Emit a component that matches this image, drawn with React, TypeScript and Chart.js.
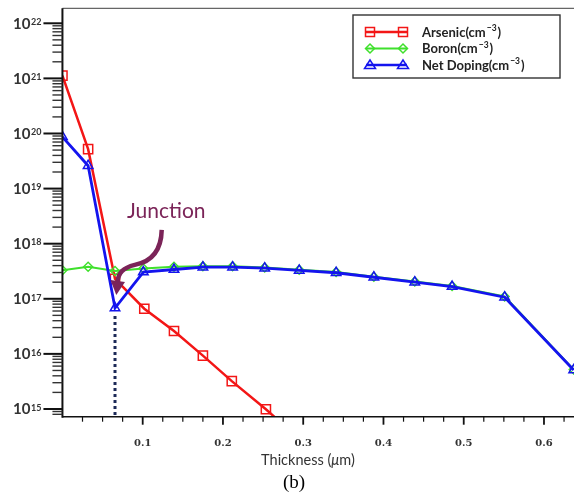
import React, { useEffect, useRef } from 'react';
import { Chart, registerables } from 'chart.js';

Chart.register(...registerables);

// ---------- data ----------
const arsenicDepth = [0, 0.032, 0.0655, 0.102, 0.139, 0.175, 0.211, 0.2535, 0.29];
const arsenicConc = [1.12e21, 5.2e19, 2.3e17, 6.6e16, 2.6e16, 9.3e15, 3.2e15, 9.9e14, 3.3e14];

const profileDepth = [0, 0.032, 0.0655, 0.1008, 0.139, 0.175, 0.212, 0.252, 0.295, 0.341, 0.388, 0.439, 0.4855, 0.551, 0.637];
const boronConc = [3.3e17, 3.8e17, 3.2e17, 3.55e17, 3.8e17, 3.9e17, 3.9e17, 3.7e17, 3.35e17, 3.05e17, 2.5e17, 2.05e17, 1.7e17, 1.1e17, 5.2e15];
const netDopingConc = [8.7e19, 2.6e19, 6.8e16, 3.06e17, 3.4e17, 3.75e17, 3.75e17, 3.6e17, 3.27e17, 2.97e17, 2.46e17, 2.0e17, 1.67e17, 1.07e17, 5.1e15];

const seriesNames = ['Arsenic', 'Boron', 'Net Doping'];
const xTickValues = [0.1, 0.2, 0.3, 0.4, 0.5, 0.6];
const yDecades = [15, 16, 17, 18, 19, 20, 21, 22];
const xTitleText = ['Thickness (', '\u03bc', 'm)'];
const junctionText = 'Junction';
const figureLabel = '(b)';

const X_MIN = 0;
const X_MAX = 0.6374;
const Y_MIN = Math.pow(10, 14.86);
const Y_MAX = Math.pow(10, 22.272);

const RED = '#f31616';
const GREEN = '#3fe02c';
const BLUE = '#1414ee';
const JUNCTION = '#7b2458';

function drawMarker(ctx: CanvasRenderingContext2D, style: string, x: number, y: number, color: string) {
  ctx.save();
  ctx.strokeStyle = color;
  ctx.lineWidth = 1.5;
  ctx.beginPath();
  if (style === 'rect') {
    ctx.rect(x - 4.5, y - 4.5, 9, 9);
  } else if (style === 'rectRot') {
    ctx.moveTo(x - 4.5, y);
    ctx.lineTo(x, y - 4.5);
    ctx.lineTo(x + 4.5, y);
    ctx.lineTo(x, y + 4.5);
    ctx.closePath();
  } else {
    ctx.moveTo(x, y - 5);
    ctx.lineTo(x + 5.5, y + 3.5);
    ctx.lineTo(x - 5.5, y + 3.5);
    ctx.closePath();
  }
  ctx.stroke();
  ctx.restore();
}

const overlayPlugin = {
  id: 'overlay',
  beforeDatasetsDraw(chart: any) {
    const { ctx, chartArea: a } = chart;
    const xs = chart.scales.x;
    const ys = chart.scales.y;
    // dotted vertical line at the junction (minimum of net doping)
    const minVal = Math.min(...netDopingConc.slice(0, 5));
    const ji = netDopingConc.indexOf(minVal);
    const jx = xs.getPixelForValue(profileDepth[ji]);
    const jy = ys.getPixelForValue(minVal);
    ctx.save();
    ctx.fillStyle = '#1c2957';
    for (let yy = jy + 8; yy < a.bottom - 3; yy += 6) {
      ctx.fillRect(jx - 1.5, yy, 3, 3);
    }
    ctx.restore();
  },
  afterDraw(chart: any) {
    const { ctx, chartArea: a } = chart;
    const xs = chart.scales.x;
    const ys = chart.scales.y;
    ctx.save();

    // frame
    ctx.strokeStyle = '#666';
    ctx.lineWidth = 1.3;
    ctx.beginPath();
    ctx.moveTo(a.left, a.top);
    ctx.lineTo(a.right, a.top);
    ctx.stroke();

    ctx.strokeStyle = '#111';
    ctx.lineWidth = 2;
    ctx.beginPath();
    ctx.moveTo(a.left, a.top);
    ctx.lineTo(a.left, a.bottom + 1);
    ctx.stroke();
    ctx.lineWidth = 1.6;
    ctx.beginPath();
    ctx.moveTo(a.left, a.bottom);
    ctx.lineTo(a.right, a.bottom);
    ctx.stroke();

    // y ticks
    for (const d of yDecades) {
      const yp = ys.getPixelForValue(Math.pow(10, d));
      ctx.strokeStyle = '#111';
      ctx.lineWidth = 2;
      ctx.beginPath();
      ctx.moveTo(a.left - 19, yp);
      ctx.lineTo(a.left, yp);
      ctx.stroke();
      for (let k = 2; k <= 9; k++) {
        const v = k * Math.pow(10, d - 1);
        if (v < Y_MIN || v > Y_MAX) continue;
        const mp = ys.getPixelForValue(v);
        ctx.strokeStyle = '#333';
        ctx.lineWidth = 1.4;
        ctx.beginPath();
        ctx.moveTo(a.left - 10, mp);
        ctx.lineTo(a.left, mp);
        ctx.stroke();
      }
      // label 10^d
      ctx.fillStyle = '#333';
      ctx.font = 'bold 15px Lato';
      ctx.textAlign = 'right';
      ctx.textBaseline = 'alphabetic';
      ctx.fillText('10', a.left - 32, yp + 5.3);
      ctx.font = 'bold 9px Lato';
      ctx.textAlign = 'left';
      ctx.fillText(String(d), a.left - 31.5, yp + 1.8);
    }

    // x ticks
    for (let i = 1; i * 0.025 <= X_MAX; i++) {
      const v = i * 0.025;
      const xp = xs.getPixelForValue(v);
      const major = i % 4 === 0;
      ctx.strokeStyle = '#111';
      ctx.lineWidth = major ? 1.8 : 1.2;
      ctx.beginPath();
      ctx.moveTo(xp, a.bottom);
      ctx.lineTo(xp, a.bottom + (major ? 8 : 5));
      ctx.stroke();
    }
    ctx.fillStyle = '#333';
    ctx.font = 'bold 10px "DejaVu Serif"';
    ctx.textAlign = 'center';
    ctx.textBaseline = 'alphabetic';
    for (const v of xTickValues) {
      ctx.fillText(v.toFixed(1), xs.getPixelForValue(v), a.bottom + 29.5);
    }

    // x title
    const parts = xTitleText;
    const fonts = ['14.5px Lato', 'italic 14.5px Lato', '14.5px Lato'];
    let total = 0;
    const widths = parts.map((p, i) => {
      ctx.font = fonts[i];
      const w = ctx.measureText(p).width;
      total += w;
      return w;
    });
    let tx = 308 - total / 2;
    ctx.textAlign = 'left';
    ctx.fillStyle = '#333';
    parts.forEach((p, i) => {
      ctx.font = fonts[i];
      ctx.fillText(p, tx, a.bottom + 48.5);
      tx += widths[i];
    });

    // figure label
    ctx.fillStyle = '#000';
    ctx.font = '19px "Liberation Serif"';
    ctx.textAlign = 'center';
    ctx.fillText(figureLabel, 294, 488);

    // legend
    const lx = 353, ly = 15, lw = 207, lh = 63;
    ctx.fillStyle = '#fff';
    ctx.fillRect(lx, ly, lw, lh);
    ctx.strokeStyle = '#333';
    ctx.lineWidth = 1.4;
    ctx.strokeRect(lx, ly, lw, lh);
    const colors = [RED, GREEN, BLUE];
    const styles = ['rect', 'rectRot', 'triangle'];
    const rowY = [32, 48.5, 65];
    seriesNames.forEach((name, i) => {
      const ry = rowY[i];
      ctx.strokeStyle = colors[i];
      ctx.lineWidth = i === 1 ? 2 : 2.5;
      ctx.beginPath();
      ctx.moveTo(366, ry);
      ctx.lineTo(407, ry);
      ctx.stroke();
      drawMarker(ctx, styles[i], 370, ry, colors[i]);
      drawMarker(ctx, styles[i], 403, ry, colors[i]);
      ctx.fillStyle = '#222';
      ctx.textAlign = 'left';
      ctx.textBaseline = 'alphabetic';
      ctx.font = 'bold 13px Lato';
      let x0 = 422;
      const base = name + '(cm';
      ctx.fillText(base, x0, ry + 4.5);
      x0 += ctx.measureText(base).width + 1;
      ctx.font = 'bold 8.5px Lato';
      ctx.fillText('\u22123', x0, ry - 1);
      x0 += ctx.measureText('\u22123').width + 1;
      ctx.font = 'bold 13px Lato';
      ctx.fillText(')', x0, ry + 4.5);
    });

    // junction annotation
    const sx = xs.getPixelForValue(0.1237);
    const sy = ys.getPixelForValue(Math.pow(10, 18.25));
    const tipX = xs.getPixelForValue(0.0671);
    const tipY = ys.getPixelForValue(Math.pow(10, 17.07));
    ctx.fillStyle = JUNCTION;
    ctx.font = '21px Lato';
    ctx.textAlign = 'center';
    ctx.fillText(junctionText, sx + 4.5, sy - 12);

    const hx = tipX + 1.2, hy = tipY - 14;
    ctx.strokeStyle = JUNCTION;
    ctx.lineWidth = 4.5;
    ctx.lineCap = 'butt';
    ctx.beginPath();
    ctx.moveTo(sx, sy);
    ctx.bezierCurveTo(sx - 0.5, sy + 22, sx - 11, sy + 32, sx - 27, sy + 35);
    ctx.bezierCurveTo(sx - 39, sy + 38, hx + 1, hy - 8, hx, hy + 1);
    ctx.stroke();
    // arrow head
    ctx.beginPath();
    ctx.moveTo(tipX, tipY);
    ctx.lineTo(hx - 7, hy - 1);
    ctx.lineTo(hx + 7.5, hy + 1);
    ctx.closePath();
    ctx.fill();

    ctx.restore();
  },
};

function pts(xs: number[], ys: number[]) {
  return xs.map((x, i) => ({ x, y: ys[i] }));
}

export default function App() {
  const ref = useRef<HTMLCanvasElement | null>(null);
  useEffect(() => {
    if (!ref.current) return;
    const chart = new Chart(ref.current, {
      type: 'line',
      data: {
        datasets: [
          {
            label: seriesNames[2],
            data: pts(profileDepth, netDopingConc),
            borderColor: BLUE,
            backgroundColor: 'rgba(0,0,0,0)',
            borderWidth: 2.8,
            pointStyle: 'triangle',
            pointRadius: 5.5,
            pointBorderWidth: 1.5,
            pointBorderColor: BLUE,
            pointBackgroundColor: 'rgba(0,0,0,0)',
            order: 0,
            clip: 0,
          },
          {
            label: seriesNames[1],
            data: pts(profileDepth, boronConc),
            borderColor: GREEN,
            backgroundColor: 'rgba(0,0,0,0)',
            borderWidth: 2,
            pointStyle: 'rectRot',
            pointRadius: 4.5,
            pointBorderWidth: 1.4,
            pointBorderColor: GREEN,
            pointBackgroundColor: 'rgba(0,0,0,0)',
            order: 1,
            clip: 0,
          },
          {
            label: seriesNames[0],
            data: pts(arsenicDepth, arsenicConc),
            borderColor: RED,
            backgroundColor: 'rgba(0,0,0,0)',
            borderWidth: 2.5,
            pointStyle: 'rect',
            pointRadius: 6.5,
            pointBorderWidth: 1.5,
            pointBorderColor: RED,
            pointBackgroundColor: 'rgba(0,0,0,0)',
            order: 2,
            clip: 0,
          },
        ],
      },
      options: {
        responsive: false,
        animation: false,
        devicePixelRatio: 1,
        layout: { autoPadding: false, padding: { left: 62.44, top: 8.3, right: 0, bottom: 81.3 } },
        plugins: { legend: { display: false }, tooltip: { enabled: false } },
        scales: {
          x: {
            type: 'linear',
            min: X_MIN,
            max: X_MAX,
            ticks: { display: false },
            grid: { display: false, drawTicks: false, tickLength: 0 },
            border: { display: false },
          },
          y: {
            type: 'logarithmic',
            min: Y_MIN,
            max: Y_MAX,
            ticks: { display: false },
            grid: { display: false, drawTicks: false, tickLength: 0 },
            border: { display: false },
          },
        },
      },
      plugins: [overlayPlugin],
    });
    return () => chart.destroy();
  }, []);
  return (
    <div style={{ position: 'fixed', left: 0, top: 0, width: 574, height: 498, background: '#fff' }}>
      <canvas ref={ref} width={574} height={498} style={{ display: 'block' }} />
    </div>
  );
}
